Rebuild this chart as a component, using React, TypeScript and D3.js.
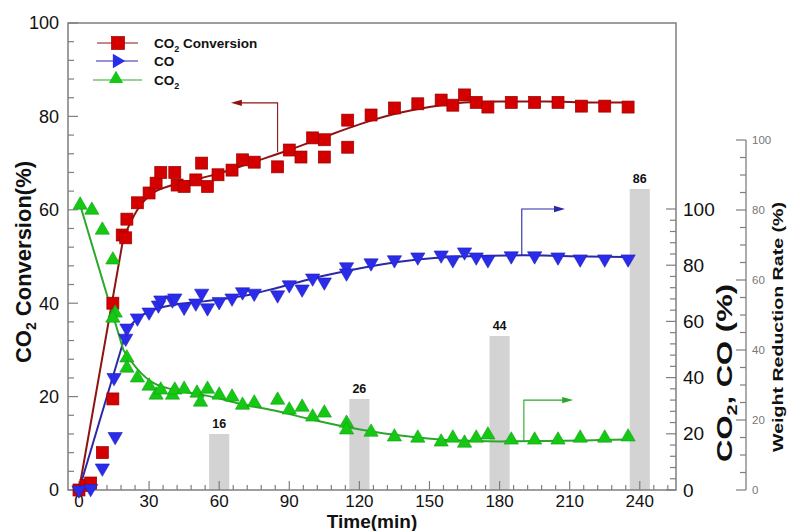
import * as d3 from "d3";

// CO2 conversion (left axis, %)
const convTime = [0, 3, 5, 10, 14.5, 14.5, 18.5, 20, 20.5, 25, 30, 33, 35, 41, 42, 45, 50, 52.5, 55, 59.5, 65.5, 70, 75, 85, 90, 95, 100, 105, 105, 115, 115, 125, 135, 145, 155, 160, 165, 170, 175, 185, 195, 205, 215, 225, 235];
const convValue = [0, 1, 1.5, 8, 19.5, 40, 54.6, 54, 58, 61.5, 63.6, 65.7, 68, 68, 65.3, 65, 66.4, 70, 65, 67.5, 68.5, 70.7, 70.2, 69.2, 72.8, 71.3, 75.4, 75, 71.3, 79.2, 73.4, 80.3, 81.8, 82.7, 83.5, 82.4, 84.6, 83, 82, 83, 83, 83, 82.2, 82.2, 82];

// CO (right axis, %)
const coTime = [0, 5, 10, 15.5, 15, 20, 20.5, 25, 30, 34, 35, 40, 41, 45, 50, 52.5, 55, 60, 65.5, 70, 75, 85, 90, 95.5, 100, 105, 114.5, 114.5, 125, 135, 145, 155, 160, 165, 170, 175, 185, 195, 205, 214.5, 225, 235];
const coValue = [0, 0.5, 7.8, 19, 40, 54, 57.6, 61.2, 63.3, 65.8, 67.6, 67.6, 68.3, 65, 66.5, 70, 64.8, 67, 68.3, 70.5, 70, 69.4, 73, 71.5, 75.4, 74, 79.4, 77.2, 80.8, 81.9, 82.9, 83.6, 81.9, 84.7, 82.9, 81.9, 83.3, 83.3, 82.9, 82.2, 82.2, 82.2];

// CO2 (right axis, %)
const co2Time = [0.5, 5.5, 10, 14.5, 15.5, 14.5, 20.5, 20.5, 25, 30, 33, 35, 40, 41, 45, 50.5, 52, 55, 60, 65.5, 70, 75, 85, 90, 95.5, 100, 105, 114.5, 114.5, 125, 135, 145, 155, 160, 165, 170, 175, 185, 195, 205, 214.5, 225, 235];
const co2Value = [101.4, 99.6, 92.5, 81.9, 63, 61.2, 47, 43.4, 39.9, 37, 33.8, 35.6, 33.8, 35.6, 35.9, 34.5, 31.3, 35.9, 33.8, 33.1, 30.2, 31, 32, 28.5, 29.5, 26, 27.4, 23.8, 21.4, 20.6, 18.9, 18.5, 17.1, 18.5, 16.7, 18.5, 19.6, 17.8, 17.8, 17.8, 18.5, 18.5, 18.9];

// fitted curves
const convFitTime = [0, 19, 25, 30, 40, 50, 60, 75, 90, 105, 120, 135, 150, 165, 180, 200, 220, 235];
const convFitValue = [0, 54, 60, 63, 65.3, 66.5, 67.8, 70.3, 72.8, 75.6, 78.3, 80.5, 82, 83, 83.2, 83.2, 83, 83];
const coFitTime = [0, 20.5, 25, 30, 40, 50, 60, 70, 85, 100, 115, 130, 145, 160, 175, 190, 210, 235];
const coFitValue = [0, 57, 61, 63.5, 65.8, 66.8, 67.8, 69, 72, 75.3, 78, 80.3, 82, 83, 83.4, 83.5, 83.2, 82.9];
const co2FitTime = [0.5, 19, 25, 32, 45, 55, 70, 85, 100, 115, 130, 145, 160, 180, 200, 220, 235];
const co2FitValue = [101.4, 49.8, 43, 38, 35, 33.5, 30.5, 28, 25, 22.3, 20.2, 18.7, 17.7, 17.3, 17.4, 17.7, 18];

// weight reduction rate bars (third axis, %)
const barTime = [60, 120, 180, 240];
const barValue = [16, 26, 44, 86];

const xTickLabels = [0, 30, 60, 90, 120, 150, 180, 210, 240];
const yTickLabels = [0, 20, 40, 60, 80, 100];

const FONT = "Arial, 'Liberation Sans', Helvetica, sans-serif";
const RED = "#d40000";
const RED_LINE = "#8e1414";
const BLUE = "#2b2bec";
const BLUE_LINE = "#2a2aa8";
const GREEN = "#14c814";
const GREEN_LINE = "#2aa82a";
const FRAME = "#7f7f7f";

export default function App() {
  const x = d3.scaleLinear().domain([-4.7, 255.5]).range([68, 676]);
  const yL = d3.scaleLinear().domain([0, 100]).range([490, 23]);
  const yR = d3.scaleLinear().domain([0, 100]).range([490, 209]);
  const yW = d3.scaleLinear().domain([0, 100]).range([490, 140]);

  const fitPath = (ts: number[], vs: number[], y: d3.ScaleLinear<number, number>) => {
    const pts = ts.map((t, i) => [x(t), y(vs[i])] as [number, number]);
    const head = d3.line()(pts.slice(0, 2));
    const tail = d3.line().curve(d3.curveMonotoneX)(pts.slice(1));
    return head + tail;
  };

  const tri = d3.symbol(d3.symbolTriangle, 88)();
  const sq = 12;

  const [x0, x1] = x.range();
  const yTop = yL(100), yBot = yL(0);

  // annotation arrow: vertical from (t, v0) to v1, then horizontal to t2
  const arrow = (t: number, v0: number, v1: number, t2: number, y: any, color: string) => {
    const ax = x(t), ay0 = y(v0), ay1 = y(v1), ex = x(t2);
    const dir = ex < ax ? -1 : 1;
    const head = `M${ex},${ay1} L${ex - dir * 11},${ay1 - 3.2} L${ex - dir * 11},${ay1 + 3.2} Z`;
    return (
      <g>
        <path d={`M${ax},${ay0} L${ax},${ay1} L${ex - dir * 8},${ay1}`} fill="none" stroke={color} strokeWidth={1.1} />
        <path d={head} fill={color} />
      </g>
    );
  };

  const leftTicks = d3.range(0, 101, 4);
  const rightTicks = d3.range(0, 101, 4);
  const bottomTicks = d3.range(0, 253, 6);
  const weightTicks = d3.range(0, 101, 5);

  return (
    <svg width={787} height={531} style={{ position: "absolute", left: 0, top: 0, background: "#fff" }} fontFamily={FONT}>
      {/* bars */}
      {barTime.map((t, i) => (
        <g key={"b" + i}>
          <rect x={x(t - 4.3)} y={yW(barValue[i])} width={x(t + 4.3) - x(t - 4.3)} height={yW(0) - yW(barValue[i])} fill="#d3d3d3" />
          <text x={x(t)} y={yW(barValue[i]) - 6} textAnchor="middle" fontSize={12.5} fontWeight="bold" fill="#111">{barValue[i]}</text>
        </g>
      ))}

      {/* frame */}
      <rect x={x0} y={yTop} width={x1 - x0} height={yBot - yTop} fill="none" stroke={FRAME} strokeWidth={1.5} />

      {/* left ticks */}
      {leftTicks.map((v) => (
        <line key={"l" + v} x1={x0} x2={x0 + (v % 20 === 0 ? 10 : 6)} y1={yL(v)} y2={yL(v)} stroke={FRAME} strokeWidth={1.2} />
      ))}
      {yTickLabels.map((v) => (
        <text key={"ll" + v} x={59} y={yL(v)} dy="0.35em" textAnchor="end" fontSize={18} fill="#111">{v}</text>
      ))}

      {/* bottom ticks */}
      {bottomTicks.map((t) => (
        <line key={"bt" + t} x1={x(t)} x2={x(t)} y1={yBot} y2={yBot - (t % 30 === 0 ? 9 : 5)} stroke={FRAME} strokeWidth={1.2} />
      ))}
      {xTickLabels.map((t) => (
        <text key={"bl" + t} x={x(t)} y={507} textAnchor="middle" fontSize={17} fill="#111">{t}</text>
      ))}

      {/* right CO/CO2 ticks */}
      {rightTicks.map((v) => (
        <line key={"r" + v} x1={x1} x2={x1 - (v % 20 === 0 ? 10 : 6)} y1={yR(v)} y2={yR(v)} stroke={FRAME} strokeWidth={1.2} />
      ))}
      {yTickLabels.map((v) => (
        <text key={"rl" + v} x={683} y={yR(v)} dy="0.35em" textAnchor="start" fontSize={19} fill="#111">{v}</text>
      ))}

      {/* weight axis */}
      <line x1={746} x2={746} y1={yW(0)} y2={yW(100)} stroke={FRAME} strokeWidth={1.3} />
      {weightTicks.map((v) => (
        <line key={"w" + v} x1={746} x2={746 - (v % 20 === 0 ? 10 : 6)} y1={yW(v)} y2={yW(v)} stroke={FRAME} strokeWidth={1.2} />
      ))}
      {yTickLabels.map((v) => (
        <text key={"wl" + v} x={752} y={yW(v)} dy="0.35em" fontSize={11.5} fill="#777">{v}</text>
      ))}

      {/* fitted lines */}
      <path d={fitPath(convFitTime, convFitValue, yL)} fill="none" stroke={RED_LINE} strokeWidth={2} />
      <path d={fitPath(coFitTime, coFitValue, yR)} fill="none" stroke={BLUE_LINE} strokeWidth={2} />
      <path d={fitPath(co2FitTime, co2FitValue, yR)} fill="none" stroke={GREEN_LINE} strokeWidth={2} />

      {/* markers */}
      {convTime.map((t, i) => (
        <rect key={"c" + i} x={x(t) - sq / 2} y={yL(convValue[i]) - sq / 2} width={sq} height={sq} fill={RED} stroke="#9a0000" strokeWidth={0.7} />
      ))}
      {coTime.map((t, i) => (
        <path key={"o" + i} d={tri as string} transform={`translate(${x(t)},${yR(coValue[i])}) rotate(180)`} fill={BLUE} stroke="#2020b0" strokeWidth={0.6} />
      ))}
      {co2Time.map((t, i) => (
        <path key={"g" + i} d={tri as string} transform={`translate(${x(t)},${yR(co2Value[i])})`} fill={GREEN} stroke="#10a010" strokeWidth={0.6} />
      ))}

      {/* annotation arrows */}
      {arrow(85, 72.3, 82.9, 65, yL, RED_LINE)}
      {arrow(189.5, 83.6, 100, 208, yR, BLUE_LINE)}
      {arrow(190.4, 17.2, 32, 211.5, yR, GREEN_LINE)}

      {/* legend */}
      <g fontSize={13.5} fontWeight="bold" fill="#111">
        <line x1={97} x2={138} y1={43} y2={43} stroke={RED_LINE} strokeWidth={1.2} />
        <rect x={118 - 6.5} y={43 - 6.5} width={13} height={13} fill={RED} stroke="#9a0000" strokeWidth={0.7} />
        <text x={154} y={47.5}>CO<tspan dy={4} fontSize={9}>2</tspan><tspan dy={-4}> Conversion</tspan></text>

        <line x1={96} x2={138} y1={61} y2={61} stroke={BLUE_LINE} strokeWidth={1.2} />
        <path d={tri as string} transform="translate(117,61) rotate(90)" fill={BLUE} />
        <text x={154} y={65.5}>CO</text>

        <line x1={93} x2={142} y1={80} y2={80} stroke={GREEN_LINE} strokeWidth={1.2} />
        <path d={tri as string} transform="translate(116,79)" fill={GREEN} />
        <text x={154} y={84.5}>CO<tspan dy={4} fontSize={9}>2</tspan></text>
      </g>

      {/* axis titles */}
      <text transform="translate(31,262) rotate(-90)" textAnchor="middle" fontSize={22} fontWeight="bold" fill="#111">
        CO<tspan dy={5} fontSize={14}>2</tspan><tspan dy={-5}> Conversion(%)</tspan>
      </text>
      <text x={372} y={528} textAnchor="middle" fontSize={19} fontWeight="bold" fill="#111">Time(min)</text>
      <text transform="translate(732,373) rotate(-90)" textAnchor="middle" fontSize={22} fontWeight="bold" fill="#111" textLength={178} lengthAdjust="spacingAndGlyphs">
        CO<tspan dy={5} fontSize={14}>2</tspan><tspan dy={-5}>, CO (%)</tspan>
      </text>
      <text transform="translate(783,327) rotate(-90)" textAnchor="middle" fontSize={14} fontWeight="bold" fill="#111" textLength={250} lengthAdjust="spacingAndGlyphs">
        Weight Reduction Rate (%)
      </text>
    </svg>
  );
}
